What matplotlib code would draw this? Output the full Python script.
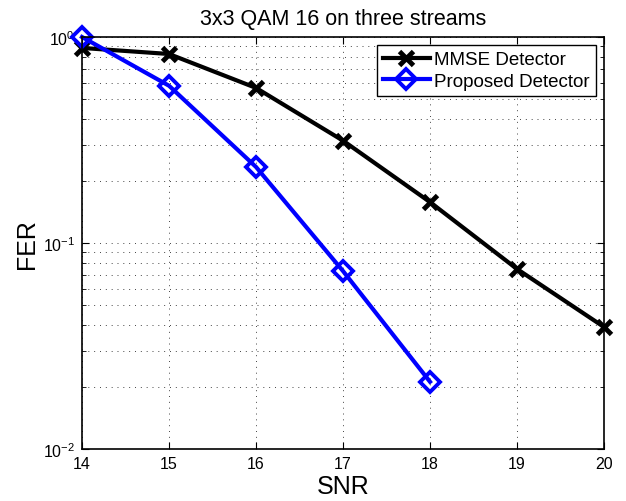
import matplotlib
matplotlib.use("Agg")
import matplotlib.pyplot as plt
from matplotlib.ticker import LogLocator, NullFormatter, FixedLocator

snr = [14, 15, 16, 17, 18, 19, 20]
mmse_fer = [0.885, 0.827, 0.566, 0.314, 0.158, 0.0748, 0.0391]
snr_prop = [14, 15, 16, 17, 18]
prop_fer = [1.0, 0.580, 0.234, 0.0731, 0.0212]
x_ticks = [14, 15, 16, 17, 18, 19, 20]

plt.rcParams['font.family'] = ['Liberation Sans', 'DejaVu Sans']
plt.rcParams['mathtext.fontset'] = 'custom'
plt.rcParams['mathtext.rm'] = 'Liberation Sans'
plt.rcParams['mathtext.it'] = 'Liberation Sans:italic'
plt.rcParams['mathtext.default'] = 'regular'

fig = plt.figure(figsize=(6.26, 5.02), dpi=100)
ax = fig.add_axes([82/626, 1-450/502, (604-82)/626, (450-38)/502])

ax.semilogy(snr, mmse_fer, color='black', linewidth=3, marker='x', markersize=10,
            markeredgewidth=3.5, label='MMSE Detector', clip_on=False)
ax.semilogy(snr_prop, prop_fer, color='blue', linewidth=3, marker='D', markersize=10,
            markeredgewidth=2.8, markerfacecolor='none', label='Proposed Detector', clip_on=False)

ax.set_xlim(14, 20)
ax.set_ylim(1e-2, 1)
ax.xaxis.set_major_locator(FixedLocator(x_ticks))
ax.yaxis.set_major_locator(LogLocator(base=10, numticks=5))
ax.yaxis.set_minor_locator(LogLocator(base=10, subs=range(2, 10), numticks=20))
ax.yaxis.set_minor_formatter(NullFormatter())

ax.grid(True, which='major', linestyle=(0, (1, 5)), color='#444444', linewidth=0.7)
ax.grid(True, which='minor', axis='y', linestyle=(0, (1, 5)), color='#444444', linewidth=0.7)
ax.tick_params(which='both', direction='in', top=True, right=True, labelsize=11.5)
ax.tick_params(which='major', length=5, pad=5)
ax.tick_params(which='minor', length=3)
for s in ax.spines.values():
    s.set_linewidth(1.2)

ax.set_title('3x3 QAM 16 on three streams', fontsize=15.5, pad=9)
ax.set_xlabel('SNR', fontsize=18, labelpad=2)
ax.set_ylabel('FER', fontsize=18, labelpad=3)

leg = ax.legend(loc='upper right', fontsize=13.5, frameon=True, fancybox=False,
                edgecolor='black', framealpha=1, borderpad=0.3, handlelength=2.5,
                handletextpad=0.25, labelspacing=0.25, borderaxespad=0.45)
leg.get_frame().set_linewidth(1.0)

fig.savefig('out.png', dpi=100)
